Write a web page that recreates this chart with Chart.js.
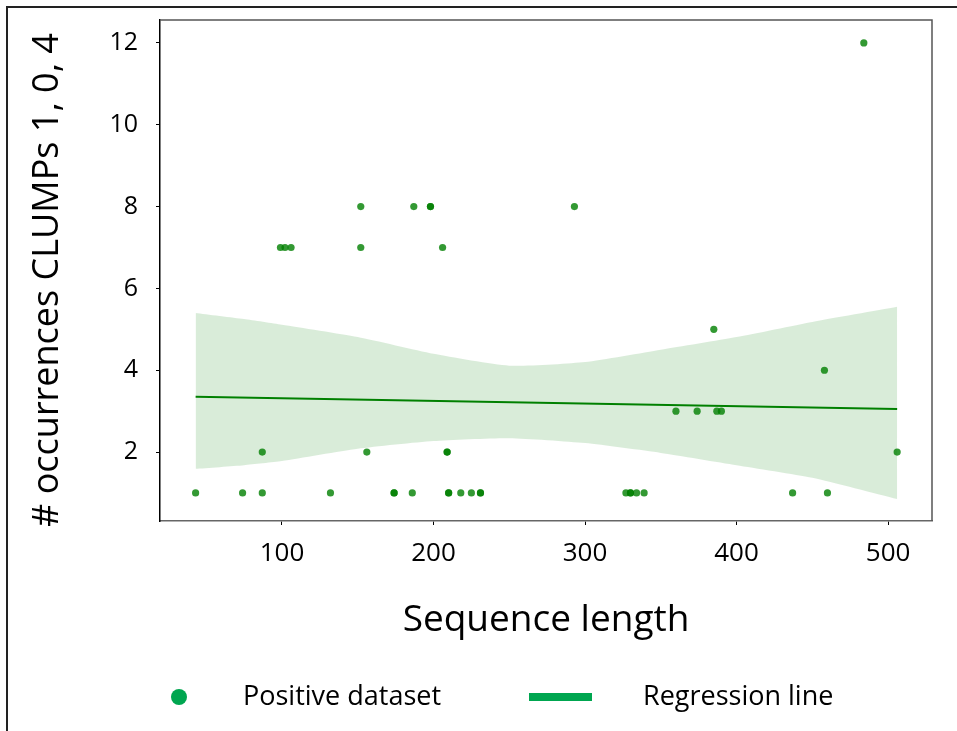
<!DOCTYPE html>
<html>
<head>
<meta charset="utf-8">
<script src="https://cdn.jsdelivr.net/npm/chart.js"></script>
<style>
  html, body { margin: 0; padding: 0; background: #fff; }
  #wrap { width: 957px; height: 731px; }
</style>
</head>
<body>
<div id="wrap"><canvas id="clumpChart" width="957" height="731"></canvas></div>
<script>
// points (sequence length vs. # occurrences)
const seqLen = [43, 74, 87, 87, 99, 102, 106, 132, 152, 152, 156, 174, 174, 186, 187, 198, 198, 206, 209, 209,
  210, 210, 218, 225, 231, 231, 293, 327, 330, 330, 334, 339, 360, 374, 385, 387, 390, 437, 458, 460, 484, 506];
const counts = [1, 1, 1, 2, 7, 7, 7, 1, 8, 7, 2, 1, 1, 1, 8, 8, 8, 7, 2, 2,
  1, 1, 1, 1, 1, 1, 8, 1, 1, 1, 1, 1, 3, 3, 5, 3, 3, 1, 4, 1, 12, 2];

// regression line end points
const regX = [43, 506];
const regY = [3.35, 3.05];

// confidence band
const bandX = [43, 75, 100, 150, 200, 250, 300, 350, 400, 450, 506];
const bandUpper = [5.40, 5.25, 5.11, 4.81, 4.40, 4.11, 4.20, 4.50, 4.81, 5.18, 5.55];
const bandLower = [1.59, 1.68, 1.78, 2.08, 2.27, 2.34, 2.22, 1.98, 1.68, 1.37, 0.85];

const xTicks = [100, 200, 300, 400, 500];
const yTicks = [2, 4, 6, 8, 10, 12];

const FONT = "'Open Sans', 'Noto Sans', sans-serif";

const toXY = (xs, ys) => xs.map((x, i) => ({ x: x, y: ys[i] }));

// frame, plot box edges, axis titles and the legend
const extras = {
  id: 'extras',
  afterDraw(chart) {
    const ctx = chart.ctx;
    const a = chart.chartArea;
    ctx.save();
    // outer frame (only left and top edges are visible)
    ctx.strokeStyle = '#222';
    ctx.lineWidth = 2;
    ctx.beginPath();
    ctx.moveTo(7, 731);
    ctx.lineTo(7, 7);
    ctx.lineTo(957, 7);
    ctx.stroke();
    // top and right edges of the plot box
    ctx.strokeStyle = '#555';
    ctx.lineWidth = 1.5;
    ctx.beginPath();
    ctx.moveTo(a.left, a.top);
    ctx.lineTo(a.right, a.top);
    ctx.lineTo(a.right, a.bottom);
    ctx.stroke();

    ctx.fillStyle = '#000';
    // x title
    ctx.font = '37px ' + FONT;
    ctx.textAlign = 'center';
    ctx.textBaseline = 'middle';
    ctx.fillText('Sequence length', 546, 620);
    // y title
    ctx.save();
    ctx.translate(48, 280);
    ctx.rotate(-Math.PI / 2);
    ctx.font = '36px ' + FONT;
    ctx.fillText('# occurrences CLUMPs 1, 0, 4', 0, 0);
    ctx.restore();

    // legend
    ctx.fillStyle = '#00a650';
    ctx.beginPath();
    ctx.arc(179, 697, 8, 0, Math.PI * 2);
    ctx.fill();
    ctx.fillRect(529, 693, 63, 8);
    ctx.fillStyle = '#000';
    ctx.font = '27px ' + FONT;
    ctx.textAlign = 'left';
    ctx.fillText('Positive dataset', 243, 697);
    ctx.fillText('Regression line', 643, 697);
    ctx.restore();
  }
};

new Chart(document.getElementById('clumpChart'), {
  type: 'scatter',
  data: {
    datasets: [
      {
        label: 'Positive dataset',
        data: toXY(seqLen, counts),
        backgroundColor: 'rgba(0,128,0,0.8)',
        borderWidth: 0,
        pointRadius: 3.6
      },
      {
        type: 'line',
        label: 'Regression line',
        data: toXY(regX, regY),
        borderColor: '#008000',
        borderWidth: 2,
        pointRadius: 0,
        fill: false
      },
      {
        type: 'line',
        label: 'upper',
        data: toXY(bandX, bandUpper),
        borderWidth: 0,
        pointRadius: 0,
        tension: 0.2,
        backgroundColor: 'rgba(0,128,0,0.15)',
        fill: '+1'
      },
      {
        type: 'line',
        label: 'lower',
        data: toXY(bandX, bandLower),
        borderWidth: 0,
        pointRadius: 0,
        tension: 0.2,
        fill: false
      }
    ]
  },
  options: {
    responsive: false,
    animation: false,
    layout: { padding: { top: 20, right: 25, left: 0, bottom: 0 } },
    plugins: { legend: { display: false }, tooltip: { enabled: false } },
    scales: {
      x: {
        type: 'linear',
        min: 19.5,
        max: 529,
        afterFit: s => { s.height = 210; s.paddingLeft = 0; s.paddingRight = 0; },
        afterBuildTicks: s => { s.ticks = xTicks.map(v => ({ value: v })); },
        grid: { drawOnChartArea: false, drawTicks: true, tickLength: 4, color: '#000' },
        border: { display: true, color: '#666', width: 1.5 },
        ticks: { color: '#000', padding: 13, font: { family: FONT, size: 26 } }
      },
      y: {
        type: 'linear',
        min: 0.315,
        max: 12.56,
        afterFit: s => { s.width = 160; s.paddingTop = 0; s.paddingBottom = 0; },
        afterBuildTicks: s => { s.ticks = yTicks.map(v => ({ value: v })); },
        grid: { drawOnChartArea: false, drawTicks: true, tickLength: 4, color: '#000' },
        border: { display: true, color: '#000', width: 1.5 },
        ticks: { color: '#000', padding: 18, font: { family: FONT, size: 25 } }
      }
    }
  },
  plugins: [extras]
});
</script>
</body>
</html>
